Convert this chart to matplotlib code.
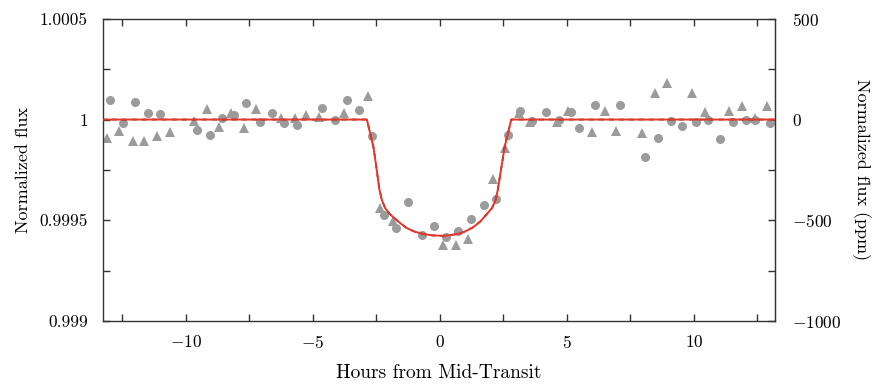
import matplotlib
matplotlib.use("Agg")
import matplotlib.pyplot as plt
from matplotlib.ticker import FixedLocator, MultipleLocator

plt.rcParams['font.family'] = 'serif'
plt.rcParams['font.serif'] = ['cmr10']
plt.rcParams['mathtext.fontset'] = 'cm'
plt.rcParams['axes.formatter.use_mathtext'] = True

# points: hours from mid-transit, offset in ppm
circle_hours = [-12.97, -12.48, -11.99, -11.48, -11.01, -9.54, -9.05, -8.56, -8.10, -7.61,
                -7.06, -6.60, -6.14, -5.62, -4.64, -4.14, -3.66, -3.18, -2.68,
                -2.20, -1.73, -1.24, -0.72, -0.24, 0.24, 0.73, 1.24, 1.73, 2.22, 2.68,
                3.16, 3.63, 4.18, 4.68, 5.16, 5.49, 6.12, 7.10, 8.08, 8.60, 9.09, 9.54,
                10.07, 10.55, 11.01, 11.53, 12.03, 12.42, 12.98]
circle_ppm = [96, -16, 86, 33, 28, -50, -75, 8, 25, 80,
              -12, 33, -17, -25, 58, -3, 99, 45, -80,
              -474, -538, -407, -575, -528, -582, -552, -492, -422, -396, -78,
              41, -8, 36, -3, 36, -41, 70, 70, -185, -94, -5, -30,
              -13, -3, -96, -13, -3, 0, -17]

tri_hours = [-13.10, -12.62, -12.09, -11.64, -11.14, -10.63, -9.67, -9.18, -8.69, -8.20,
             -7.69, -7.25, -6.25, -5.69, -5.25, -4.75, -3.76, -2.81,
             -2.34, -1.86, 0.13, 0.62, 1.11, 2.09, 2.57,
             3.10, 3.55, 4.60, 5.03, 5.99, 6.51, 6.95, 7.97, 8.47, 8.95, 9.91,
             10.43, 11.37, 11.90, 12.40, 12.88]
tri_ppm = [-91, -58, -104, -108, -83, -61, -8, 50, -38, 33,
           -41, 50, 8, 8, 25, 12, 33, 118,
           -438, -505, -623, -625, -592, -294, -140,
           35, -10, -10, 41, -63, 41, -58, -66, 133, 179, 133,
           38, 41, 66, 8, 66]

# transit model curve
model_hours = [-13.3, -2.87, -2.61, -2.48, -2.38, -2.28, -2.15, -1.96, -1.60, -1.31, -1.00,
               -0.65, -0.30, 0.13, 0.40, 0.78, 1.00, 1.31, 1.60, 1.83, 2.05,
               2.18, 2.28, 2.38, 2.55, 2.81, 13.3]
model_ppm = [0, 0, -137, -252, -345, -400, -440, -470, -510, -538, -556,
             -568, -575, -577, -574, -566, -555, -535, -505, -472, -440,
             -405, -350, -270, -137, 0, 0]

gray = '#9b9b9b'


def to_flux(ppm):
    return [1 + p * 1e-6 for p in ppm]


fig = plt.figure(figsize=(8.81, 3.84), dpi=100)
ax = fig.add_axes([0.117, 0.164, 0.763, 0.787])

ax.plot(circle_hours, to_flux(circle_ppm), 'o', color=gray, markersize=6.5, markeredgewidth=0, zorder=2)
ax.plot(tri_hours, to_flux(tri_ppm), '^', color=gray, markersize=7.5, markeredgewidth=0, zorder=2)
ax.plot(model_hours, to_flux(model_ppm), color='#3a1a14', lw=1.2, ls=(0, (3, 3)), zorder=3)
ax.plot(model_hours, to_flux(model_ppm), color='#e8352a', lw=1.4, zorder=4)

ax.set_xlim(-13.25, 13.2)
ax.set_ylim(0.999, 1.0005)

ax.xaxis.set_major_locator(FixedLocator([-10, -5, 0, 5, 10]))
ax.xaxis.set_minor_locator(MultipleLocator(2.5))
ax.yaxis.set_major_locator(FixedLocator([0.999, 0.9995, 1.0, 1.0005]))
ax.yaxis.set_minor_locator(FixedLocator([0.99925, 0.99975, 1.00025]))
ax.set_yticklabels(['0.999', '0.9995', '1', '1.0005'])

ax.tick_params(which='both', direction='in', top=True, length=5, width=1, color='#333333',
               labelsize=12.5)
ax.tick_params(axis='x', which='both', pad=9)
ax.tick_params(axis='y', which='both', right=False, pad=11)

sec = ax.secondary_yaxis('right', functions=(lambda f: (f - 1) * 1e6, lambda p: 1 + p / 1e6))
sec.yaxis.set_major_locator(FixedLocator([-1000, -500, 0, 500]))
sec.yaxis.set_minor_locator(FixedLocator([-750, -250, 250]))
sec.tick_params(which='both', direction='in', length=5, width=1, color='#333333',
                labelsize=12.5, pad=12)
sec.spines['right'].set_color('#333333')
sec.set_ylabel('Normalized flux (ppm)', rotation=270, fontsize=13, labelpad=21)

for sp in ax.spines.values():
    sp.set_color('#333333')
    sp.set_linewidth(1)

ax.set_xlabel('Hours from Mid-Transit', fontsize=14, labelpad=10)
ax.set_ylabel('Normalized flux', fontsize=13, labelpad=6)

fig.savefig('out.png', dpi=100)
